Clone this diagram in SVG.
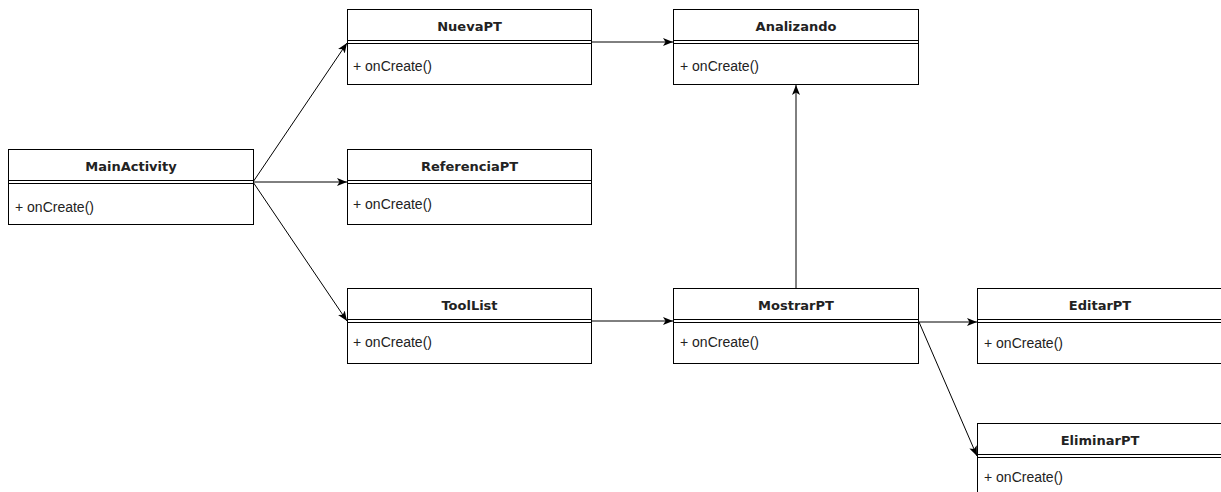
<svg xmlns="http://www.w3.org/2000/svg" width="1221" height="492" viewBox="0 0 1221 492">
<style>
.box{fill:#fff;stroke:#000;stroke-width:1}
.div{stroke:#000;stroke-width:1;fill:none}
.t{font-family:"DejaVu Sans",Verdana,sans-serif;font-weight:bold;font-size:13px;fill:#222;text-anchor:middle}
.m{font-family:"Liberation Sans",Arial,sans-serif;font-size:14px;fill:#222}
.c{stroke:#000;stroke-width:1;fill:none;marker-end:url(#ah)}
</style>
<defs>
<marker id="ah" viewBox="0 0 10 10" refX="10" refY="5" markerWidth="10" markerHeight="10" markerUnits="userSpaceOnUse" orient="auto">
<path d="M0,1 L10,5 L0,9 L2.5,5 Z" fill="#000"/>
</marker>
</defs>
<g id="connectors">
<line class="c" x1="253" y1="182" x2="347" y2="43"/>
<line class="c" x1="253" y1="182" x2="347" y2="182"/>
<line class="c" x1="253" y1="182" x2="347" y2="321"/>
<line class="c" x1="592" y1="42" x2="673" y2="42"/>
<line class="c" x1="592" y1="321" x2="673" y2="321"/>
<line class="c" x1="796" y1="288" x2="796" y2="85"/>
<line class="c" x1="919" y1="322" x2="977" y2="322"/>
<line class="c" x1="919" y1="322" x2="977" y2="456"/>
</g>
<g id="MainActivity">
<rect class="box" x="8.5" y="149.5" width="245" height="75"/>
<line class="div" x1="8.5" y1="180.5" x2="253.5" y2="180.5"/>
<line class="div" x1="8.5" y1="183.5" x2="253.5" y2="183.5"/>
<text class="t" x="131" y="171">MainActivity</text>
<text class="m" x="15" y="212">+ onCreate()</text>
</g>
<g id="NuevaPT">
<rect class="box" x="347.5" y="9.5" width="244" height="75"/>
<line class="div" x1="347.5" y1="40.5" x2="591.5" y2="40.5"/>
<line class="div" x1="347.5" y1="43.5" x2="591.5" y2="43.5"/>
<text class="t" x="469.5" y="31">NuevaPT</text>
<text class="m" x="353" y="71">+ onCreate()</text>
</g>
<g id="Analizando">
<rect class="box" x="673.5" y="9.5" width="245" height="75"/>
<line class="div" x1="673.5" y1="40.5" x2="918.5" y2="40.5"/>
<line class="div" x1="673.5" y1="43.5" x2="918.5" y2="43.5"/>
<text class="t" x="796" y="31">Analizando</text>
<text class="m" x="680" y="71">+ onCreate()</text>
</g>
<g id="ReferenciaPT">
<rect class="box" x="347.5" y="149.5" width="244" height="75"/>
<line class="div" x1="347.5" y1="180.5" x2="591.5" y2="180.5"/>
<line class="div" x1="347.5" y1="183.5" x2="591.5" y2="183.5"/>
<text class="t" x="469.5" y="171">ReferenciaPT</text>
<text class="m" x="353" y="209">+ onCreate()</text>
</g>
<g id="ToolList">
<rect class="box" x="347.5" y="288.5" width="244" height="75"/>
<line class="div" x1="347.5" y1="319.5" x2="591.5" y2="319.5"/>
<line class="div" x1="347.5" y1="322.5" x2="591.5" y2="322.5"/>
<text class="t" x="469.5" y="310">ToolList</text>
<text class="m" x="353" y="347">+ onCreate()</text>
</g>
<g id="MostrarPT">
<rect class="box" x="673.5" y="288.5" width="245" height="75"/>
<line class="div" x1="673.5" y1="319.5" x2="918.5" y2="319.5"/>
<line class="div" x1="673.5" y1="322.5" x2="918.5" y2="322.5"/>
<text class="t" x="796" y="310">MostrarPT</text>
<text class="m" x="680" y="347">+ onCreate()</text>
</g>
<g id="EditarPT">
<rect class="box" x="977.5" y="288.5" width="260" height="75"/>
<line class="div" x1="977.5" y1="319.5" x2="1237.5" y2="319.5"/>
<line class="div" x1="977.5" y1="322.5" x2="1237.5" y2="322.5"/>
<text class="t" x="1100" y="310">EditarPT</text>
<text class="m" x="984" y="348">+ onCreate()</text>
</g>
<g id="EliminarPT">
<rect class="box" x="977.5" y="423.5" width="260" height="75"/>
<line class="div" x1="977.5" y1="454.5" x2="1237.5" y2="454.5"/>
<line class="div" x1="977.5" y1="457.5" x2="1237.5" y2="457.5"/>
<text class="t" x="1100" y="445">EliminarPT</text>
<text class="m" x="984" y="482">+ onCreate()</text>
</g>
</svg>
